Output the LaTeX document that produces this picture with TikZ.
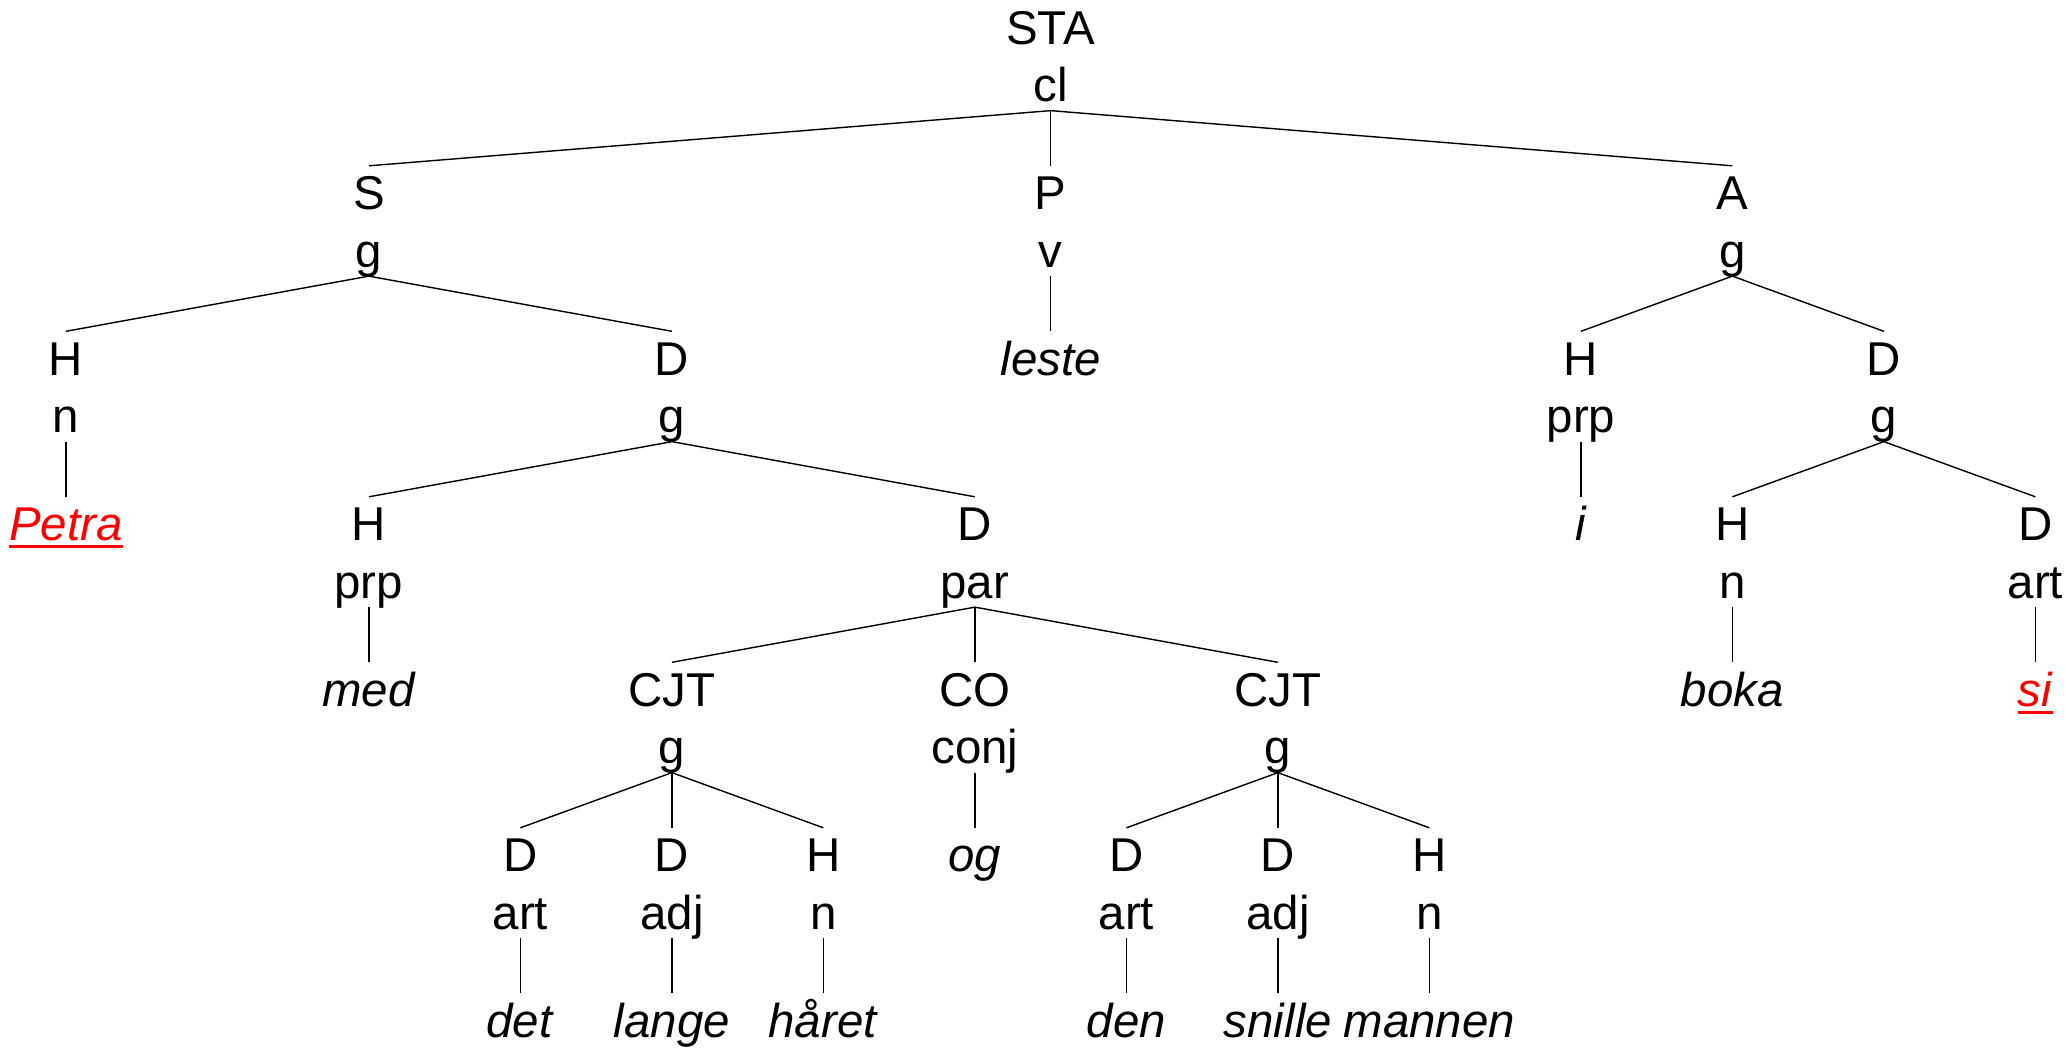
\documentclass[tikz,border=0pt]{standalone}
\usepackage{fontspec}
\setmainfont{Liberation Sans}
\tikzset{lab/.style={inner sep=0pt, text height=0.43cm, text depth=0.08cm, anchor=base,
	font=\fontsize{13.5pt}{16pt}\selectfont}}
\newcommand{\twolab}[5]{\node[lab] (#1) at (#2,#3) {#4};
					\node[lab] (#1f) at (#2,#3+0.35) {#5};}
\newcommand{\leaf}[4]{\node[lab] (#1) at (#2,#3) {\textit{#4}};}
\newcommand{\redul}[1]{\textcolor{red}{\setbox0=\hbox{\textit{#1}}\rlap{\rule[-2.2pt]{\wd0}{0.8pt}}\box0}}
\newcommand{\branch}[2]{\draw (#1f.south) -- (#2.north);}

\begin{document}
\begin{tikzpicture}

					\useasboundingbox (0,0) rectangle (20.66,-10.47);

					\begin{scope}[shift={(0.659cm,-0.44cm)}, x=1.515cm, y=-1.655cm]

					\twolab{sta}{6.5}{0}{STA}{cl}

					\twolab{s}{2}{1}{S}{g}
					\twolab{p}{6.5}{1}{P}{v}
					\twolab{a}{11}{1}{A}{g}

					\twolab{sh}{0}{2}{H}{n}
					\twolab{sd}{4}{2}{D}{g}
					\leaf{leste}{6.5}{2}{leste}
					\twolab{ah}{10}{2}{H}{prp}
					\twolab{ad}{12}{2}{D}{g}

					\node[lab] (petra) at (0,3) {\redul{Petra}};
					\twolab{sdh}{2}{3}{H}{prp}
					\twolab{sdd}{6}{3}{D}{par}
					\leaf{i}{10}{3}{i}
					\twolab{adh}{11}{3}{H}{n}
					\twolab{add}{13}{3}{D}{art}

					\leaf{med}{2}{4}{med}
					\twolab{cjta}{4}{4}{CJT}{g}
					\twolab{co}{6}{4}{CO}{conj}
					\twolab{cjtb}{8}{4}{CJT}{g}
					\leaf{boka}{11}{4}{boka}
					\node[lab] (si) at (13,4) {\redul{si}};

					\twolab{da}{3}{5}{D}{art}
					\twolab{db}{4}{5}{D}{adj}
					\twolab{ha}{5}{5}{H}{n}
					\leaf{og}{6}{5}{og}
					\twolab{dc}{7}{5}{D}{art}
					\twolab{dd}{8}{5}{D}{adj}
					\twolab{hb}{9}{5}{H}{n}

					\leaf{det}{3}{6}{det}
					\leaf{lange}{4}{6}{lange}
					\leaf{haret}{5}{6}{håret}
					\leaf{den}{7}{6}{den}
					\leaf{snille}{8}{6}{snille}
					\leaf{mannen}{9}{6}{mannen}

					\branch{sta}{s}
					\branch{sta}{p}
					\branch{sta}{a}
					\branch{s}{sh}
					\branch{s}{sd}
					\branch{p}{leste}
					\branch{a}{ah}
					\branch{a}{ad}
					\branch{sh}{petra}
					\branch{sd}{sdh}
					\branch{sd}{sdd}
					\branch{ah}{i}
					\branch{ad}{adh}
					\branch{ad}{add}
					\branch{sdh}{med}
					\branch{sdd}{cjta}
					\branch{sdd}{co}
					\branch{sdd}{cjtb}
					\branch{adh}{boka}
					\branch{add}{si}
					\branch{cjta}{da}
					\branch{cjta}{db}
					\branch{cjta}{ha}
					\branch{co}{og}
					\branch{cjtb}{dc}
					\branch{cjtb}{dd}
					\branch{cjtb}{hb}
					\branch{da}{det}
					\branch{db}{lange}
					\branch{ha}{haret}
					\branch{dc}{den}
					\branch{dd}{snille}
					\branch{hb}{mannen}

					\end{scope}

\end{tikzpicture}
\end{document}
